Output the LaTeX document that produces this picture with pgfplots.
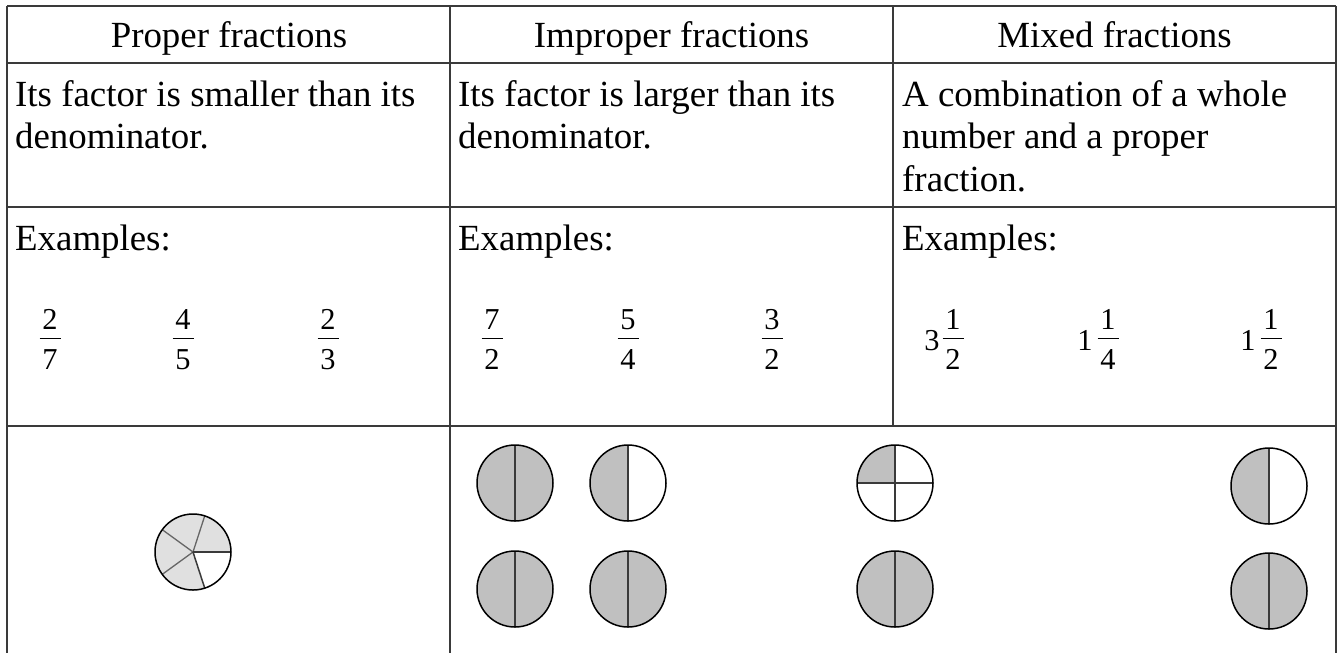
\documentclass[border=0pt]{standalone}
\usepackage{fontspec}
\setmainfont{Liberation Serif}
\usepackage{pgfplots}
\pgfplotsset{compat=1.18}
\definecolor{rule}{HTML}{3A3A3A}
\definecolor{halffill}{HTML}{C0C0C0}
\definecolor{piefill}{HTML}{E0E0E0}
\definecolor{pieline}{HTML}{666666}

\newcommand{\bodyfont}{\fontsize{37}{42}\selectfont}
\newcommand{\fracfont}{\fontsize{30.5}{32}\selectfont}
% fraction centred at x: numerator, bar, denominator
\newcommand{\frc}[3]{%
  \node[anchor=base, inner sep=0, font=\fracfont] at (axis cs:#1,329) {#2};
  \draw[line width=1.9bp] (axis cs:#1,338.5) ++(-10.5bp,0) -- ++(21bp,0);
  \node[anchor=base, inner sep=0, font=\fracfont] at (axis cs:#1,369) {#3};}
% circle: x, y, left fill, right fill
\newcommand{\halfc}[4]{%
  \fill[#3] (axis cs:#1,#2) -- ++(90:38bp) arc[start angle=90, end angle=270, radius=38bp] -- cycle;
  \fill[#4] (axis cs:#1,#2) -- ++(-90:38bp) arc[start angle=-90, end angle=90, radius=38bp] -- cycle;
  \draw[rule, line width=1.8bp] (axis cs:#1,#2) ++(0,38bp) -- ++(0,-76bp);
  \draw[black, line width=1.5bp] (axis cs:#1,#2) circle[radius=38bp];}

\begin{document}
\begin{tikzpicture}
\begin{axis}[
  width=1338bp, height=653bp, scale only axis,
  xmin=0, xmax=1338, ymin=0, ymax=653, y dir=reverse,
  hide axis, clip=false
]
\addplot[draw=none, forget plot] coordinates {(0,0) (1338,653)};
% table rules
\addplot[rule, line width=1.3bp, no markers] coordinates {(7,6) (1336,6)};
\addplot[rule, line width=1.3bp, no markers] coordinates {(7,63) (1336,63)};
\addplot[rule, line width=1.3bp, no markers] coordinates {(7,207) (1336,207)};
\addplot[rule, line width=1.3bp, no markers] coordinates {(7,426) (1336,426)};
\addplot[rule, line width=1.3bp, no markers] coordinates {(7,6) (7,653)};
\addplot[rule, line width=1.3bp, no markers] coordinates {(450,6) (450,653)};
\addplot[rule, line width=1.3bp, no markers] coordinates {(893,6) (893,426)};
\addplot[rule, line width=1.3bp, no markers] coordinates {(1336,6) (1336,653)};

% headers
\node[anchor=base, inner sep=0, font=\bodyfont] at (axis cs:229,48) {Proper fractions};
\node[anchor=base, inner sep=0, font=\bodyfont] at (axis cs:671.5,48) {Improper fractions};
\node[anchor=base, inner sep=0, font=\bodyfont] at (axis cs:1114.5,48) {Mixed fractions};

% descriptions
\node[anchor=base west, inner sep=0, font=\bodyfont] at (axis cs:15,106) {Its factor is smaller than its};
\node[anchor=base west, inner sep=0, font=\bodyfont] at (axis cs:15,148) {denominator.};
\node[anchor=base west, inner sep=0, font=\bodyfont] at (axis cs:458,106) {Its factor is larger than its};
\node[anchor=base west, inner sep=0, font=\bodyfont] at (axis cs:458,148) {denominator.};
\node[anchor=base west, inner sep=0, font=\bodyfont] at (axis cs:902,106) {A combination of a whole};
\node[anchor=base west, inner sep=0, font=\bodyfont] at (axis cs:902,148) {number and a proper};
\node[anchor=base west, inner sep=0, font=\bodyfont] at (axis cs:902,191) {fraction.};

% examples
\node[anchor=base west, inner sep=0, font=\bodyfont] at (axis cs:15,250) {Examples:};
\node[anchor=base west, inner sep=0, font=\bodyfont] at (axis cs:458,250) {Examples:};
\node[anchor=base west, inner sep=0, font=\bodyfont] at (axis cs:902,250) {Examples:};

\frc{50}{2}{7}
\frc{183}{4}{5}
\frc{328}{2}{3}
\frc{492}{7}{2}
\frc{628}{5}{4}
\frc{772}{3}{2}
\node[anchor=base, inner sep=0, font=\fracfont] at (axis cs:932,350) {3};
\frc{953}{1}{2}
\node[anchor=base, inner sep=0, font=\fracfont] at (axis cs:1085,350) {1};
\frc{1108}{1}{4}
\node[anchor=base, inner sep=0, font=\fracfont] at (axis cs:1248,350) {1};
\frc{1271}{1}{2}

% pie: four fifths
\fill[piefill] (axis cs:193,552) -- ++(0:38bp) arc[start angle=0, end angle=288, radius=38bp] -- cycle;
\draw[pieline, line width=1.3bp] (axis cs:193,552) -- ++(72:38bp);
\draw[pieline, line width=1.3bp] (axis cs:193,552) -- ++(144:38bp);
\draw[pieline, line width=1.3bp] (axis cs:193,552) -- ++(216:38bp);
\draw[rule, line width=1.5bp] (axis cs:193,552) -- ++(0:38bp);
\draw[rule, line width=1.5bp] (axis cs:193,552) -- ++(288:38bp);
\draw[black, line width=1.5bp] (axis cs:193,552) circle[radius=38bp];

% improper: seven halves
\halfc{515}{483}{halffill}{halffill}
\halfc{628}{483}{halffill}{white}
\halfc{515}{589}{halffill}{halffill}
\halfc{628}{589}{halffill}{halffill}

% mixed: quarter + whole
\fill[halffill] (axis cs:895,483) -- ++(90:38bp) arc[start angle=90, end angle=180, radius=38bp] -- cycle;
\draw[rule, line width=1.8bp] (axis cs:895,483) ++(0,38bp) -- ++(0,-76bp);
\draw[rule, line width=1.8bp] (axis cs:895,483) ++(-38bp,0) -- ++(76bp,0);
\draw[black, line width=1.5bp] (axis cs:895,483) circle[radius=38bp];
\halfc{895}{589}{halffill}{halffill}
\halfc{1269}{486}{halffill}{white}
\halfc{1269}{591}{halffill}{halffill}
\end{axis}
\end{tikzpicture}
\end{document}
